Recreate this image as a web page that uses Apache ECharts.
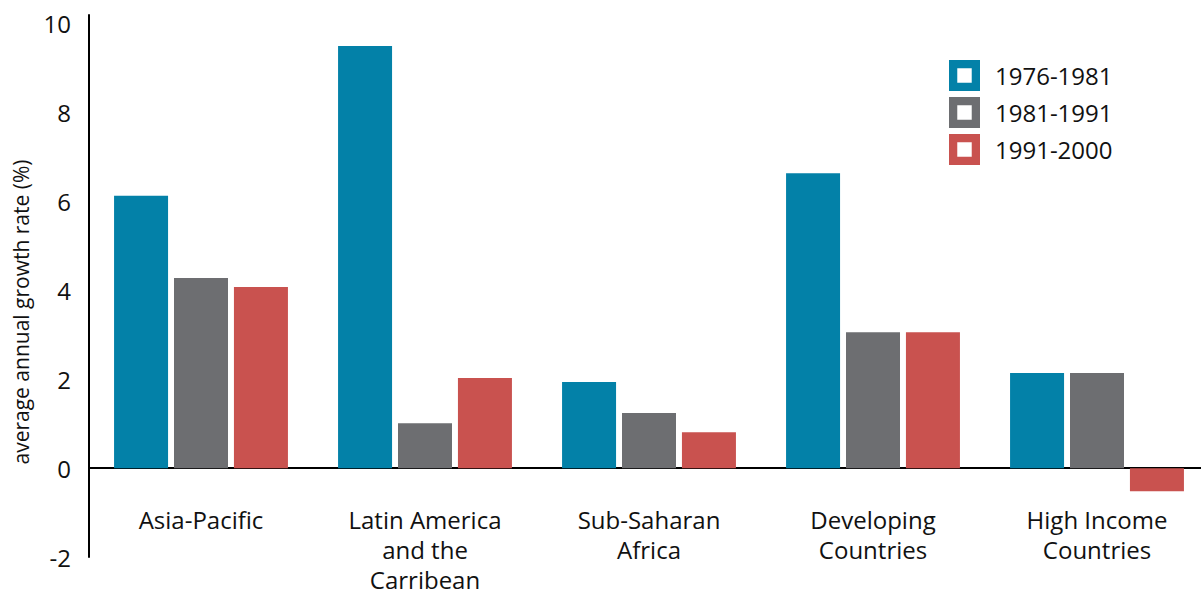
<!DOCTYPE html>
<html>
<head>
<meta charset="utf-8">
<script src="https://cdn.jsdelivr.net/npm/echarts@6/dist/echarts.min.js"></script>
<style>
html,body{margin:0;padding:0;background:#fff;}
#chart{width:1201px;height:594px;}
</style>
</head>
<body>
<div id="chart"></div>
<script>
const categories = ['Asia-Pacific', 'Latin America\nand the\nCarribean', 'Sub-Saharan\nAfrica', 'Developing\nCountries', 'High Income\nCountries'];
const seriesNames = ['1976-1981', '1981-1991', '1991-2000'];
const s1976_1981 = [6.13, 9.5, 1.94, 6.64, 2.14];
const s1981_1991 = [4.28, 1.01, 1.24, 3.06, 2.14];
const s1991_2000 = [4.08, 2.03, 0.81, 3.06, -0.52];
const yTicks = [-2, 0, 2, 4, 6, 8, 10];
const colors = ['#0381a8', '#6d6e71', '#c9524f'];

const FONT = 'Open Sans';
const chart = echarts.init(document.getElementById('chart'), null, {renderer: 'svg'});
const iconPath = 'path://M0,0H30V30H0Z M8,8V22H22V8Z';
const values = [s1976_1981, s1981_1991, s1991_2000];

chart.setOption({
  animation: false,
  textStyle: {fontFamily: FONT},
  grid: {left: 89, top: 15, width: 1120, bottom: 37, containLabel: false, outerBoundsMode: 'none'},
  legend: {
    orient: 'vertical', left: 949, top: 60, padding: 0,
    itemWidth: 31, itemHeight: 31, itemGap: 6,
    icon: iconPath,
    textStyle: {fontSize: 24, color: '#111', padding: [0, 0, 0, 10], fontFamily: FONT},
    data: seriesNames
  },
  graphic: [{
    type: 'text', x: 21, y: 312, rotation: Math.PI / 2,
    style: {text: 'average annual growth rate (%)', fontSize: 21, fill: '#111', fontFamily: FONT, align: 'center', verticalAlign: 'middle'}
  }],
  xAxis: {
    type: 'category', data: categories,
    axisLine: {onZero: true, lineStyle: {color: '#000', width: 2}},
    axisTick: {show: false},
    axisLabel: {fontSize: 24, color: '#111', lineHeight: 30, margin: -53, interval: 0, fontFamily: FONT},
    splitLine: {show: false}
  },
  yAxis: {
    type: 'value', min: -2, max: 10.2, interval: 2,
    axisLine: {show: true, lineStyle: {color: '#000', width: 2}},
    axisTick: {show: false},
    splitLine: {show: false},
    axisLabel: {
      fontSize: 24, color: '#111', margin: 18, fontFamily: FONT,
      formatter: v => yTicks.indexOf(v) >= 0 ? String(v) : ''
    }
  },
  series: seriesNames.map((n, i) => ({
    name: n, type: 'bar', data: values[i],
    barWidth: 54, barGap: '11%',
    itemStyle: {color: colors[i]}
  }))
});
</script>
</body>
</html>
